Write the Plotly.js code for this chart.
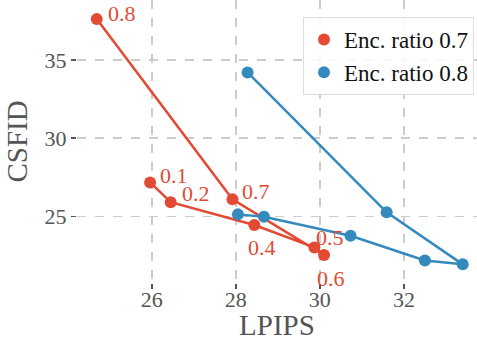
<!DOCTYPE html>
<html>
<head>
<meta charset="utf-8">
<script src="https://cdn.plot.ly/plotly-3.0.1.min.js"></script>
<style>
html,body{margin:0;padding:0;background:#fff;}
#chart{width:477px;height:341px;}
#chart svg text{font-family:"Liberation Serif","Times New Roman",serif !important;}
</style>
</head>
<body>
<div id="chart"></div>
<script>
// Enc. ratio 0.7 series (LPIPS vs CSFID), labelled by ratio
const redLabels = ["0.1", "0.2", "0.4", "0.5", "0.6", "0.7", "0.8"];
const redLPIPS  = [25.96, 26.45, 28.44, 29.87, 30.10, 27.92, 24.69];
const redCSFID  = [27.18, 25.92, 24.46, 23.03, 22.54, 26.10, 37.60];

// Enc. ratio 0.8 series
const blueLPIPS = [28.05, 28.67, 30.73, 32.50, 33.40, 31.59, 28.28];
const blueCSFID = [25.14, 24.99, 23.77, 22.20, 21.95, 25.27, 34.20];

const seriesNames = ["Enc. ratio 0.7", "Enc. ratio 0.8"];
const xTicks = [26, 28, 30, 32];
const yTicks = [25, 30, 35];

const RED = "#E24A33", BLUE = "#348ABD", TXT = "#555555";
const FONT = "Liberation Serif";

// label placement (pixel shifts) for each red label
const labelShift = {
  "0.1": [8, 7], "0.2": [9, 9], "0.4": [-8, -22], "0.5": [0, 10],
  "0.6": [-9, -23], "0.7": [8, 8], "0.8": [9, 6]
};

const traces = [
  {x: redLPIPS, y: redCSFID, mode: "lines+markers", showlegend: false,
   line: {color: RED, width: 2.5}, marker: {color: RED, size: 12}},
  {x: blueLPIPS, y: blueCSFID, mode: "lines+markers", showlegend: false,
   line: {color: BLUE, width: 2.5}, marker: {color: BLUE, size: 12}},
  {x: [null], y: [null], mode: "markers", name: seriesNames[0],
   marker: {color: RED, size: 12}},
  {x: [null], y: [null], mode: "markers", name: seriesNames[1],
   marker: {color: BLUE, size: 12}}
];

const annotations = redLabels.map((t, i) => ({
  x: redLPIPS[i], y: redCSFID[i], text: t, showarrow: false,
  xanchor: "left", yanchor: "middle",
  xshift: labelShift[t][0], yshift: labelShift[t][1],
  font: {family: FONT, size: 22, color: RED}
}));

const layout = {
  width: 477, height: 341,
  margin: {l: 77, r: 0, t: 0, b: 58},
  paper_bgcolor: "#fff", plot_bgcolor: "#fff",
  font: {family: FONT, color: TXT},
  xaxis: {
    range: [24.22, 33.74], tickvals: xTicks, ticktext: xTicks.map(String),
    showgrid: true, gridcolor: "#cccccc", gridwidth: 1.5, griddash: "dash",
    zeroline: false, showline: false,
    ticks: "outside", ticklen: 5, tickwidth: 1.5, tickcolor: "#555",
    ticklabelstandoff: -8,
    tickfont: {family: FONT, size: 22, color: TXT},
    title: {text: "LPIPS", font: {family: FONT, size: 29, color: TXT}, standoff: 10}
  },
  yaxis: {
    range: [20.76, 38.82], tickvals: yTicks, ticktext: yTicks.map(String),
    showgrid: true, gridcolor: "#cccccc", gridwidth: 1.5, griddash: "dash",
    zeroline: false, showline: false,
    ticks: "outside", ticklen: 5, tickwidth: 1.5, tickcolor: "#555",
    tickfont: {family: FONT, size: 22, color: TXT},
    title: {text: "CSFID", font: {family: FONT, size: 29, color: TXT}, standoff: 8}
  },
  legend: {
    x: 0.565, y: 0.94, xanchor: "left", yanchor: "top",
    bgcolor: "rgba(255,255,255,0.85)", bordercolor: "#dddddd", borderwidth: 1,
    font: {family: FONT, size: 23, color: "#111"}
  },
  annotations: annotations,
  showlegend: true
};

Plotly.newPlot("chart", traces, layout, {displayModeBar: false, staticPlot: true});
</script>
</body>
</html>
